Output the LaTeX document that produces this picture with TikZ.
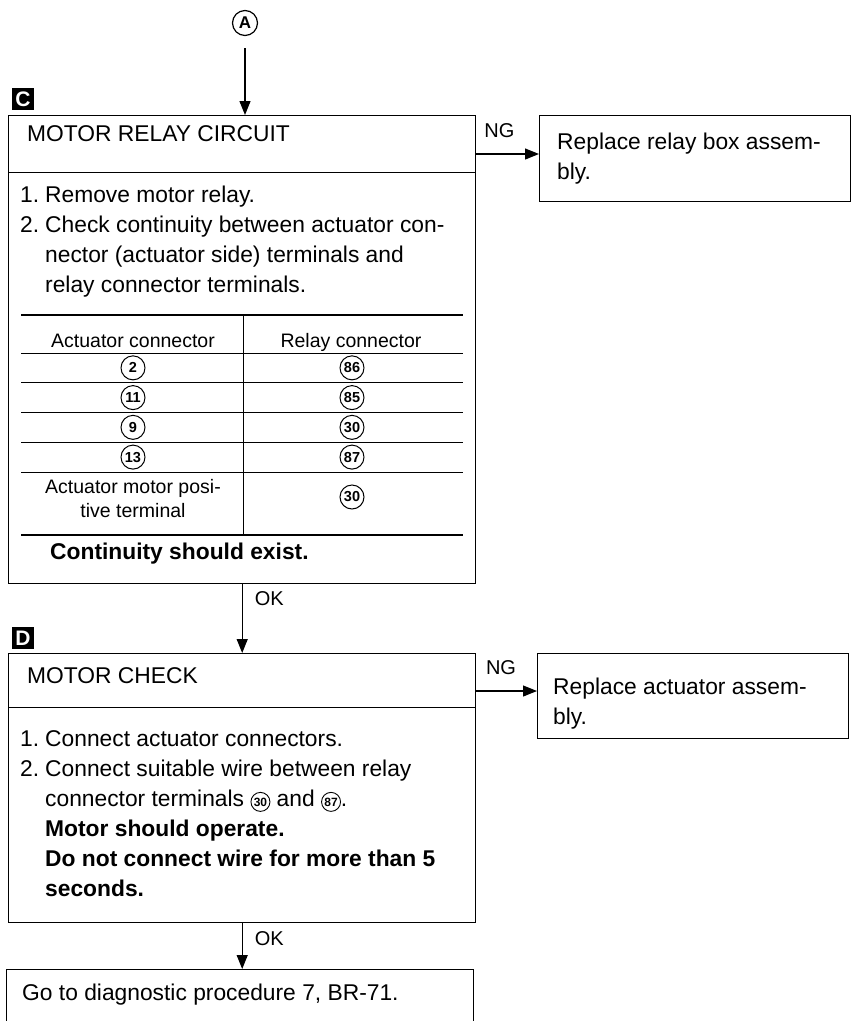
\documentclass[tikz,border=0pt]{standalone}
\usepackage{fontspec}
\setmainfont{Liberation Sans}
\usetikzlibrary{arrows.meta, positioning}

\newcommand{\stepfont}{\fontsize{22.8}{30}\selectfont}
\newcommand{\cellfont}{\fontsize{19.5}{24}\selectfont}
\newcommand{\termfont}{\fontsize{14.5}{14.5}\selectfont\bfseries}
\newcommand{\labelfont}{\fontsize{20}{20}\selectfont}
\newcommand{\cnum}[1]{\tikz[baseline=(t.base)]\node[circle, draw, line width=0.9pt, inner sep=0pt, minimum size=19pt, anchor=center, font=\fontsize{12}{12}\selectfont\bfseries] (t) {#1};}

\begin{document}
\begin{tikzpicture}[x=1pt, y=-1pt,
  stepbox/.style={draw, line width=1.4pt, inner sep=0pt, anchor=north west},
  steptag/.style={fill=black, text=white, inner sep=0pt, minimum size=22pt, font=\bfseries\fontsize{21}{21}\selectfont},
  flow/.style={line width=1.2pt, -{Triangle[length=14pt, width=11pt]}},
  txt/.style={anchor=base west, align=left, inner sep=0pt, font=\stepfont},
  cell/.style={anchor=base, align=center, inner sep=0pt, font=\cellfont},
  term/.style={circle, draw, line width=1pt, inner sep=0pt, minimum size=24pt, font=\termfont},
  lbl/.style={inner sep=0pt, font=\labelfont},
  divider/.style={line width=1pt},
  thickrule/.style={line width=2.6pt}]

  \clip (0,0) rectangle (857,1021);

  % entry point
  \node[circle, draw, line width=1.2pt, inner sep=0pt, minimum size=25pt, font=\bfseries\fontsize{17}{17}\selectfont] (A) at (245,23) {A};

  % step C
  \node[steptag] (tagC) at (23,99) {C};
  \node[stepbox, minimum width=467pt, minimum height=468pt] (relay) at (8,115) {};
  \node[txt] (relayTitle) at (27,141) {MOTOR RELAY CIRCUIT};
  \draw[divider] (8,172) -- (475,172);
  % base of a multi-line node is its last line
  \node[txt] (relaySteps) at (20,292) {\makebox[25pt][l]{1.}Remove motor relay.\\
    \makebox[25pt][l]{2.}Check continuity between actuator con-\\
    \hspace*{25pt}nector (actuator side) terminals and\\
    \hspace*{25pt}relay connector terminals.};

  \draw[thickrule] (21,315) -- (463,315);
  \draw[divider] (243,315) -- (243,535);
  \node[cell] (hdAct) at (133,347) {Actuator connector};
  \node[cell] (hdRel) at (351,347) {Relay connector};
  \draw[divider] (21,353) -- (463,353);
  \foreach \a/\r [count=\i] in {2/86,11/85,9/30,13/87} {
    \node[term] (act\i) at (133,{338.1+29.75*\i}) {\a};
    \node[term] (rel\i) at (352,{338.1+29.75*\i}) {\r};
    \draw[divider] (21,{353+29.75*\i}) -- (463,{353+29.75*\i});
  }
  \node[cell, anchor=center] (act5) at (133,499) {Actuator motor posi-\\tive terminal};
  \node[term] (rel5) at (352,497) {30};
  \draw[thickrule] (21,535) -- (463,535);
  \node[txt, font=\stepfont\bfseries] (relayResult) at (50,559) {Continuity should exist.};

  \node[stepbox, minimum width=311pt, minimum height=86pt] (replC) at (539,115) {};
  \node[txt] (replCText) at (557,179) {Replace relay box assem-\\bly.};

  % step D
  \node[steptag] (tagD) at (23,638) {D};
  \node[stepbox, minimum width=467pt, minimum height=269pt] (motor) at (8,653) {};
  \node[txt] (motorTitle) at (27,683) {MOTOR CHECK};
  \draw[divider] (8,707) -- (475,707);
  \node[txt] (motorSteps) at (20,896) {\makebox[25pt][l]{1.}Connect actuator connectors.\\
    \makebox[25pt][l]{2.}Connect suitable wire between relay\\
    \hspace*{25pt}connector terminals \cnum{30} and \cnum{87}.\\
    \hspace*{25pt}\textbf{Motor should operate.}\\
    \hspace*{25pt}\textbf{Do not connect wire for more than 5}\\
    \hspace*{25pt}\textbf{seconds.}};

  \node[stepbox, minimum width=311pt, minimum height=85pt] (replD) at (537,653) {};
  \node[txt] (replDText) at (553,724) {Replace actuator assem-\\bly.};

  \node[stepbox, minimum width=467pt, minimum height=70pt] (goto) at (6,969) {};
  \node[txt] (gotoText) at (22,1000) {Go to diagnostic procedure 7, BR-71.};

  % connectors
  \coordinate (ngC) at (475,154);
  \coordinate (ngD) at (475,691);
  \draw[flow] ([yshift=-12pt]A.south) -- (A |- relay.north);
  \draw[flow] (ngC) -- node[lbl, above=16pt, pos=0.38] {NG} (ngC -| replC.west);
  \draw[flow] (relay.south) -- node[lbl, right=12pt, pos=0.21] {OK} (motor.north);
  \draw[flow] (ngD) -- node[lbl, above=16pt, pos=0.42] {NG} (ngD -| replD.west);
  \draw[flow] (motor.south) -- node[lbl, right=12pt, pos=0.34] {OK} (motor.south |- goto.north);
\end{tikzpicture}
\end{document}
